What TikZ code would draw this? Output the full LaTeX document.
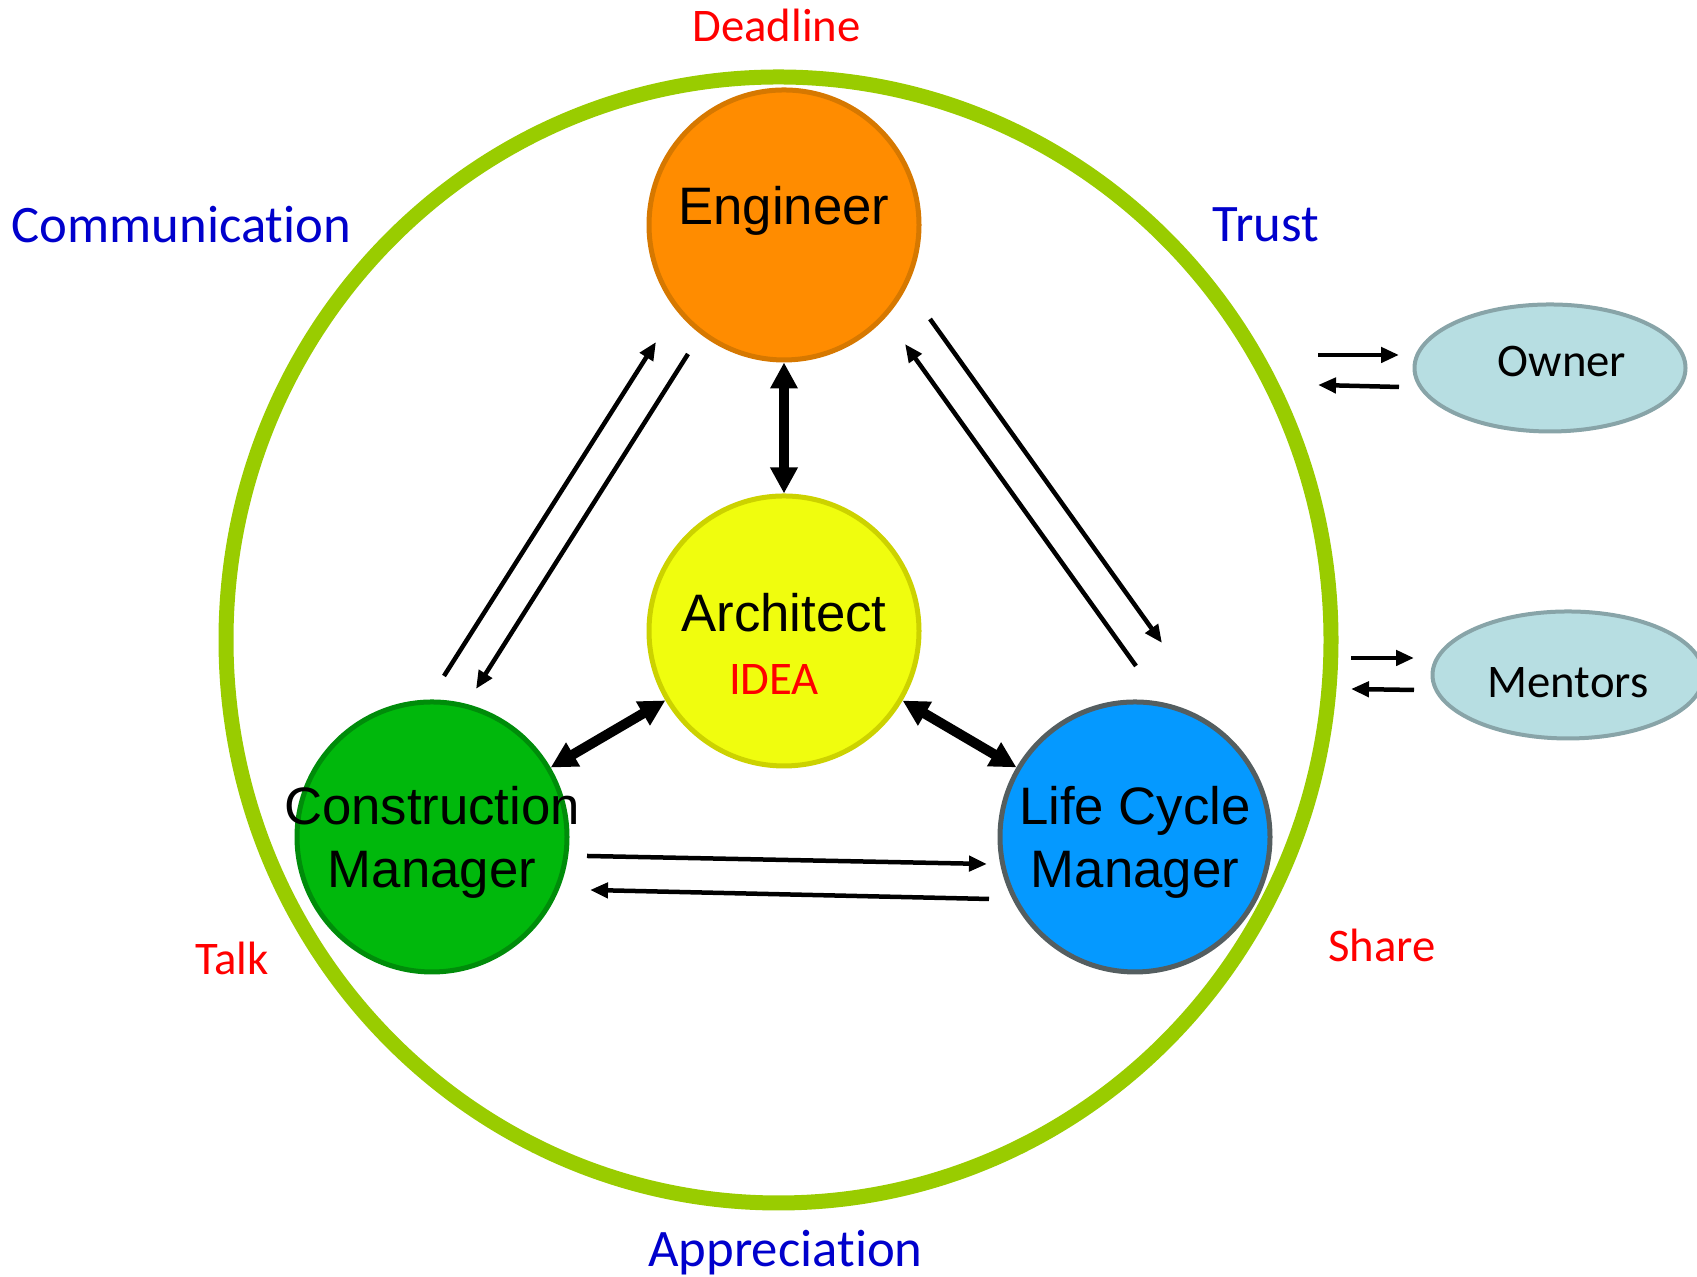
\documentclass[tikz,border=0pt]{standalone}
\usepackage{fontspec}
\usepackage{xcolor}
\usetikzlibrary{
	arrows.meta,
	calc,
	shapes.geometric,
	positioning
}
\newfontfamily\rolefont{Liberation Sans}
\newfontfamily\notefont[Ligatures=NoCommon]{Carlito}
\definecolor{ringgreen}{RGB}{153,204,0}
\definecolor{engfill}{RGB}{255,140,0}
\definecolor{engline}{RGB}{214,120,0}
\definecolor{archfill}{RGB}{240,253,14}
\definecolor{archline}{RGB}{204,210,0}
\definecolor{cmfill}{RGB}{0,184,12}
\definecolor{cmline}{RGB}{0,140,10}
\definecolor{lcmfill}{RGB}{5,153,255}
\definecolor{lcmline}{RGB}{84,94,96}
\definecolor{partyfill}{RGB}{183,222,226}
\definecolor{partyline}{RGB}{136,164,168}
\definecolor{keyblue}{RGB}{0,0,204}
\definecolor{notered}{RGB}{255,0,0}

\begin{document}
\begin{tikzpicture}[
	role/.style={circle, minimum size=2.70cm, inner sep=0pt, line width=0.05cm, align=center, text height=0pt, text depth=0pt, font=\rolefont\fontsize{15}{18}\selectfont},
	party/.style={ellipse, minimum width=2.71cm, minimum height=1.27cm, inner sep=0pt, line width=0.04cm, draw=partyline, fill=partyfill, font=\notefont\fontsize{13.3}{16}\selectfont},
	keyword/.style={anchor=base, text=keyblue, font=\notefont\fontsize{15}{18}\selectfont},
	remark/.style={anchor=base, text=notered, font=\notefont\fontsize{13.3}{16}\selectfont},
	flow/.style={-{Triangle[length=0.18cm, width=0.15cm]}, line width=0.045cm},
	link/.style={{Triangle[length=0.26cm, width=0.26cm]}-{Triangle[length=0.26cm, width=0.26cm]}, line width=0.1cm}
]
	\useasboundingbox (0,0) rectangle (16.97,12.77);
	\clip (0,0) rectangle (16.97,12.77);
	\draw[ringgreen, line width=0.15cm] (7.785,6.37) ellipse [x radius=5.525, y radius=5.63];
	\node[role, fill=engfill, draw=engline] (eng) at (7.84,10.52) {Engineer};
	\node[role, fill=archfill, draw=archline, text height=1.28cm] (arch) at (7.84,6.46) {Architect\\{\notefont\fontsize{13.3}{16}\selectfont\color{notered}IDEA}\hspace*{0.2cm}};
	\node[role, fill=cmfill, draw=cmline, text height=1.02cm] (cm) at (4.32,4.40) {\makebox[0pt]{Construction}\\Manager};
	\node[role, fill=lcmfill, draw=lcmline, text height=1.02cm] (lcm) at (11.35,4.40) {Life Cycle\\Manager};
	\node[party, text height=0.18cm, text depth=0pt] (owner) at (15.50,9.09) {\hspace*{0.24cm}Owner};
	\node[party, text height=0.46cm, text depth=0pt] (mentors) at (15.68,6.02) {Mentors};
	\node[remark] (deadline) at (7.765,12.35) {Deadline};
	\node[keyword] (comm) at (1.815,10.34) {Communication};
	\node[keyword] (trust) at (12.66,10.35) {Trust};
	\node[remark] (talk) at (2.32,3.02) {Talk};
	\node[remark] (share) at (13.82,3.15) {Share};
	\node[keyword] (appr) at (7.855,0.10) {Appreciation};
	\coordinate (cm1) at (4.44,6.01); \coordinate (eng1) at (6.56,9.35);
	\coordinate (eng2) at (6.88,9.23); \coordinate (cm2) at (4.76,5.88);
	\coordinate (eng3) at (9.30,9.58); \coordinate (lcm3) at (11.62,6.34);
	\coordinate (lcm4) at (11.36,6.11); \coordinate (eng4) at (9.05,9.33);
	\coordinate (cm5) at (5.87,4.21); \coordinate (lcm5) at (9.87,4.13);
	\coordinate (lcm6) at (9.89,3.78); \coordinate (cm6) at (5.90,3.87);
	\coordinate (own1) at (13.18,9.22); \coordinate (own2) at (13.99,9.22);
	\coordinate (own3) at (13.99,8.90); \coordinate (own4) at (13.18,8.92);
	\coordinate (men1) at (13.51,6.19); \coordinate (men2) at (14.14,6.19);
	\coordinate (men3) at (14.14,5.87); \coordinate (men4) at (13.51,5.88);
	\foreach \a/\b in {cm1/eng1, eng2/cm2, eng3/lcm3, lcm4/eng4, cm5/lcm5, lcm6/cm6, own1/own2, own3/own4, men1/men2, men3/men4}
	\draw[flow] (\a) -- (\b);
	\draw[link] (eng) -- (arch);
	\draw[link] (cm) -- (arch);
	\draw[link] (arch) -- (lcm);
\end{tikzpicture}
\end{document}
